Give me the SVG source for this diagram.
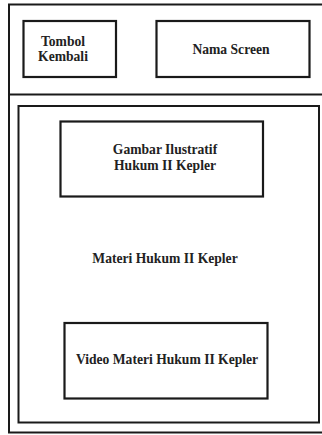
<svg xmlns="http://www.w3.org/2000/svg" width="322" height="435" viewBox="0 0 322 435">
  <style>
    .frame { fill: none; stroke: #1a1a1a; stroke-width: 2; }
    .box { fill: #ffffff; stroke: #1a1a1a; stroke-width: 2.2; }
    .label { font-family: "Liberation Serif", "Times New Roman", serif; font-weight: bold; font-size: 13.6px; fill: #222222; text-anchor: middle; }
  </style>
  <rect width="322" height="435" fill="#ffffff"/>

  <!-- screen outline, open on the right -->
  <g id="screen">
    <path class="frame" d="M325,4.5 H9 V432.5 H325"/>
    <line class="frame" x1="9" y1="94.5" x2="325" y2="94.5"/>
  </g>

  <!-- header -->
  <g id="tombol-kembali">
    <rect class="box" x="23.5" y="21" width="92.5" height="56"/>
    <text class="label" x="63" y="46">Tombol</text>
    <text class="label" x="63" y="61">Kembali</text>
  </g>
  <g id="nama-screen">
    <rect class="box" x="156.5" y="21" width="153" height="56"/>
    <text class="label" x="231" y="54">Nama Screen</text>
  </g>

  <!-- content area -->
  <g id="materi">
    <rect class="frame" x="18.5" y="106" width="300.5" height="316.5"/>
    <text class="label" x="165" y="263">Materi Hukum II Kepler</text>
  </g>
  <g id="gambar">
    <rect class="box" x="60.5" y="121.5" width="202.5" height="75"/>
    <text class="label" x="165" y="154">Gambar Ilustratif</text>
    <text class="label" x="165" y="170">Hukum II Kepler</text>
  </g>
  <g id="video">
    <rect class="box" x="64.5" y="323" width="203" height="75.5"/>
    <text class="label" x="167" y="364">Video Materi Hukum II Kepler</text>
  </g>

  <g id="connectors"/>
</svg>
